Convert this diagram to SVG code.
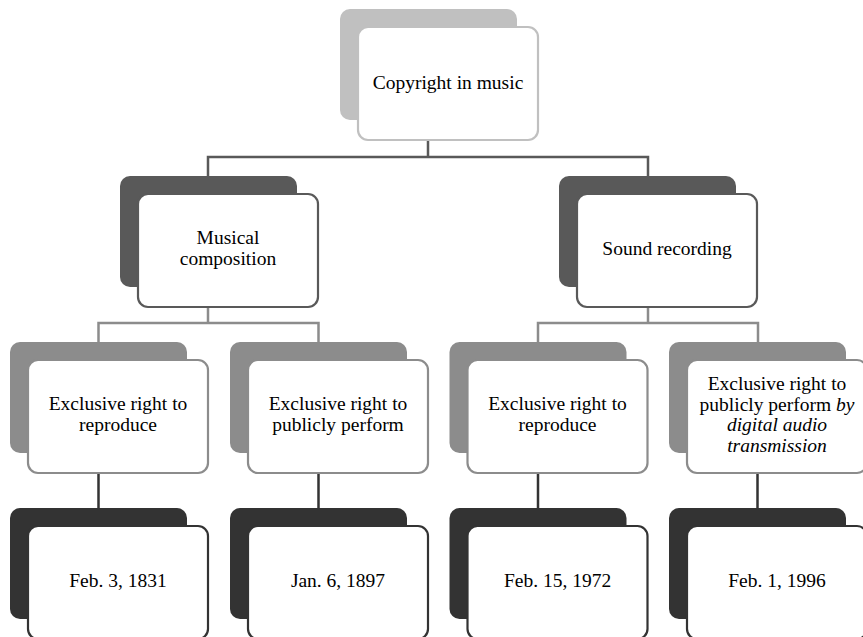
<svg xmlns="http://www.w3.org/2000/svg" width="863" height="637" viewBox="0 0 863 637">
<style>
.front{fill:#ffffff;stroke-width:2.2}
text{font-family:'Liberation Serif','Times New Roman',Tinos,'DejaVu Serif',serif;font-size:19.5px;fill:#000;text-anchor:middle}
.l1b{fill:#c0c0c0}.l1f{stroke:#c0c0c0}
.l2b{fill:#595959}.l2f{stroke:#595959}
.l3b{fill:#8c8c8c}.l3f{stroke:#8c8c8c}
.l4b{fill:#333333}.l4f{stroke:#333333}
.c{fill:none;stroke-width:2.5}
</style>
<rect width="863" height="637" fill="#ffffff"/>
<g id="connectors">
<path class="c" stroke="#595959" d="M428,140V157M208,176V157H648V176"/>
<path class="c" stroke="#8c8c8c" d="M208,307V323M98.5,342V323H318.5V342"/>
<path class="c" stroke="#8c8c8c" d="M648,307V323M538,342V323H758V342"/>
<path class="c" stroke="#333333" d="M98.5,473V508M318.5,473V508M538,473V508M757.5,473V508"/>
</g>
<g id="n-copyright">
<rect class="l1b" x="340" y="9" width="177" height="111" rx="10"/>
<rect class="front l1f" x="358" y="27" width="180" height="113" rx="10"/>
<text x="448" y="89" font-family="Liberation Serif, serif">Copyright in music</text>
</g>
<g id="n-composition">
<rect class="l2b" x="120" y="176" width="177" height="111" rx="10"/>
<rect class="front l2f" x="138" y="194" width="180" height="113" rx="10"/>
<text x="228" y="244">Musical</text>
<text x="228" y="264.5">composition</text>
</g>
<g id="n-recording">
<rect class="l2b" x="559" y="176" width="177" height="111" rx="10"/>
<rect class="front l2f" x="577" y="194" width="180" height="113" rx="10"/>
<text x="667" y="255">Sound recording</text>
</g>
<g id="n-comp-reproduce">
<rect class="l3b" x="10" y="342" width="177" height="111" rx="10"/>
<rect class="front l3f" x="28" y="360" width="180" height="113" rx="10"/>
<text x="118" y="410">Exclusive right to</text>
<text x="118" y="431">reproduce</text>
</g>
<g id="n-comp-perform">
<rect class="l3b" x="230" y="342" width="177" height="111" rx="10"/>
<rect class="front l3f" x="248" y="360" width="180" height="113" rx="10"/>
<text x="338" y="410">Exclusive right to</text>
<text x="338" y="431">publicly perform</text>
</g>
<g id="n-rec-reproduce">
<rect class="l3b" x="449.5" y="342" width="177" height="111" rx="10"/>
<rect class="front l3f" x="467.5" y="360" width="180" height="113" rx="10"/>
<text x="557.5" y="410">Exclusive right to</text>
<text x="557.5" y="431">reproduce</text>
</g>
<g id="n-rec-perform">
<rect class="l3b" x="669" y="342" width="177" height="111" rx="10"/>
<rect class="front l3f" x="687" y="360" width="180" height="113" rx="10"/>
<text x="777" y="390">Exclusive right to</text>
<text x="777" y="410.5">publicly perform <tspan font-style="italic">by</tspan></text>
<text x="777" y="431" font-style="italic">digital audio</text>
<text x="777" y="451.5" font-style="italic">transmission</text>
</g>
<g id="n-1831">
<rect class="l4b" x="10" y="508" width="177" height="111" rx="10"/>
<rect class="front l4f" x="28" y="526" width="180" height="113" rx="10"/>
<text x="118" y="587">Feb. 3, 1831</text>
</g>
<g id="n-1897">
<rect class="l4b" x="230" y="508" width="177" height="111" rx="10"/>
<rect class="front l4f" x="248" y="526" width="180" height="113" rx="10"/>
<text x="338" y="587">Jan. 6, 1897</text>
</g>
<g id="n-1972">
<rect class="l4b" x="449.5" y="508" width="177" height="111" rx="10"/>
<rect class="front l4f" x="467.5" y="526" width="180" height="113" rx="10"/>
<text x="557.5" y="587">Feb. 15, 1972</text>
</g>
<g id="n-1996">
<rect class="l4b" x="669" y="508" width="177" height="111" rx="10"/>
<rect class="front l4f" x="687" y="526" width="180" height="113" rx="10"/>
<text x="777" y="587">Feb. 1, 1996</text>
</g>
</svg>
